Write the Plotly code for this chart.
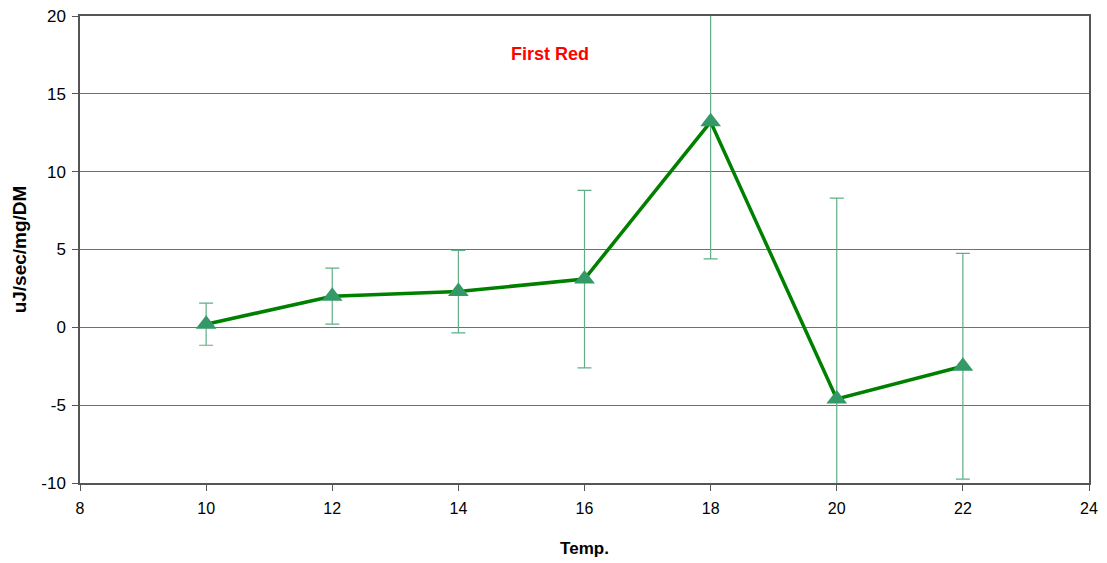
import plotly.graph_objects as go

# Temperature series with mean response and standard error
temps = [10, 12, 14, 16, 18, 20, 22]
values = [0.2, 2.0, 2.3, 3.1, 13.2, -4.6, -2.5]
errors = [1.35, 1.8, 2.65, 5.7, 8.8, 12.9, 7.25]

x_ticks = [8, 10, 12, 14, 16, 18, 20, 22, 24]
y_ticks = [-10, -5, 0, 5, 10, 15, 20]

font_family = "Liberation Sans, Arial, sans-serif"

fig = go.Figure()
fig.add_trace(go.Scatter(
    x=temps,
    y=values,
    mode="lines+markers",
    line=dict(color="#008000", width=3.5),
    marker=dict(symbol="triangle-up", size=18, color="#339966",
                line=dict(width=0)),
    error_y=dict(type="data", array=errors, visible=True,
                 color="#5fae86", thickness=1.2, width=7),
    cliponaxis=True,
    showlegend=False,
))

fig.add_annotation(
    x=15.46, y=17.55, xref="x", yref="y",
    text="<b>First Red</b>", showarrow=False,
    font=dict(color="#ff0000", size=18, family=font_family),
)

fig.update_layout(
    width=1107, height=563,
    margin=dict(l=80, r=18, t=16, b=80),
    paper_bgcolor="white",
    plot_bgcolor="white",
    font=dict(family=font_family, size=16, color="black"),
)

fig.update_xaxes(
    range=[8, 24],
    tickvals=x_ticks,
    ticktext=[str(v) for v in x_ticks],
    showgrid=False,
    zeroline=False,
    showline=True, linecolor="#555555", linewidth=1.5,
    mirror=True,
    ticks="outside", ticklen=6, tickcolor="#555555",
    ticklabelstandoff=4,
    tickfont=dict(size=16),
    automargin=False,
    title=dict(text="<b>Temp.</b>", font=dict(size=17), standoff=26),
)

fig.update_yaxes(
    range=[-10, 20],
    tickvals=y_ticks,
    ticktext=[str(v) for v in y_ticks],
    showgrid=True, gridcolor="#707070", gridwidth=1.2,
    zeroline=False,
    showline=True, linecolor="#555555", linewidth=1.5,
    mirror=True,
    ticks="outside", ticklen=6, tickcolor="#555555",
    ticklabelstandoff=3,
    tickfont=dict(size=17),
    automargin=False,
    title=dict(text="<b>uJ/sec/mg/DM</b>", font=dict(size=19), standoff=10),
)

fig.write_html("out.html")
